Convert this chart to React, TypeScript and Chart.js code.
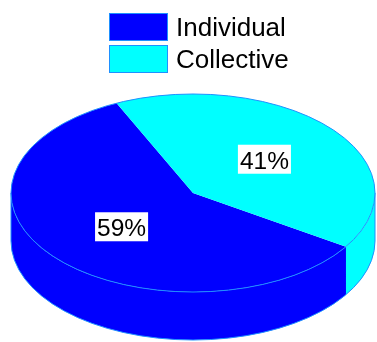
import React, { useEffect, useRef } from "react";
import { Chart, registerables } from "chart.js";

Chart.register(...registerables);

// Data
const categories = ["Individual", "Collective"];
const shares = [59, 41];

// Styling
const sliceColors = ["#0000FF", "#00FFFF"];
const edgeColor = "#1E90FF";
const rotationDeg = 122.8;
const TILT = 99 / 182; // vertical/horizontal radius of the top face
const DEPTH = 48; // thickness of the disc in px
const LABEL_RADIUS = 0.52;
const FONT = "Liberation Sans, Arial, sans-serif";

// Helper: visible front portion of the wall is canvas angle range [0, PI]
function frontSegments(a1: number, a2: number): Array<[number, number]> {
  const out: Array<[number, number]> = [];
  for (let k = -2; k <= 3; k++) {
    const base = k * 2 * Math.PI;
    const lo = Math.max(a1, base);
    const hi = Math.min(a2, base + Math.PI);
    if (hi > lo) out.push([lo, hi]);
  }
  return out;
}

const pie3d = {
  id: "pie3d",
  beforeDatasetsDraw(chart: any) {
    const ctx: CanvasRenderingContext2D = chart.ctx;
    const arcs = chart.getDatasetMeta(0).data as any[];
    if (!arcs.length) return;
    const { x: cx, y: cy, outerRadius: ry } = arcs[0];
    const rx = ry / TILT;

    // side walls of the disc
    ctx.save();
    arcs.forEach((arc, i) => {
      frontSegments(arc.startAngle, arc.endAngle).forEach(([lo, hi]) => {
        ctx.beginPath();
        ctx.ellipse(cx, cy, rx, ry, 0, lo, hi);
        ctx.ellipse(cx, cy + DEPTH, rx, ry, 0, hi, lo, true);
        ctx.closePath();
        ctx.fillStyle = sliceColors[i];
        ctx.fill();
      });
    });
    // wall outline
    ctx.strokeStyle = edgeColor;
    ctx.lineWidth = 1;
    ctx.beginPath();
    ctx.moveTo(cx + rx, cy);
    ctx.lineTo(cx + rx, cy + DEPTH);
    ctx.ellipse(cx, cy + DEPTH, rx, ry, 0, 0, Math.PI);
    ctx.lineTo(cx - rx, cy);
    ctx.stroke();
    ctx.restore();

    // stretch the library's circular arcs into the elliptical top face
    ctx.save();
    ctx.translate(cx, cy);
    ctx.scale(1 / TILT, 1);
    ctx.translate(-cx, -cy);
  },
  afterDatasetsDraw(chart: any) {
    const ctx: CanvasRenderingContext2D = chart.ctx;
    ctx.restore();
    const arcs = chart.getDatasetMeta(0).data as any[];
    if (!arcs.length) return;
    const { x: cx, y: cy, outerRadius: ry } = arcs[0];
    const rx = ry / TILT;

    ctx.save();
    ctx.strokeStyle = edgeColor;
    ctx.lineWidth = 1;
    ctx.beginPath();
    ctx.ellipse(cx, cy, rx, ry, 0, 0, Math.PI * 2);
    ctx.stroke();

    // percentage labels on a white box
    const values = chart.data.datasets[0].data as number[];
    const total = values.reduce((s, v) => s + v, 0);
    ctx.font = `24.5px ${FONT}`;
    ctx.textAlign = "center";
    ctx.textBaseline = "alphabetic";
    arcs.forEach((arc, i) => {
      const mid = (arc.startAngle + arc.endAngle) / 2;
      const lx = cx + LABEL_RADIUS * rx * Math.cos(mid);
      const ly = cy + LABEL_RADIUS * ry * Math.sin(mid);
      const text = Math.round((values[i] / total) * 100) + "%";
      const w = ctx.measureText(text).width + 4;
      const h = 29;
      ctx.fillStyle = "#FFFFFF";
      ctx.fillRect(lx - w / 2, ly - h / 2, w, h);
      ctx.fillStyle = "#000000";
      ctx.fillText(text, lx, ly + 9.5);
    });
    ctx.restore();
  },
  afterDraw(chart: any) {
    // stacked legend
    const ctx: CanvasRenderingContext2D = chart.ctx;
    const labels = chart.data.labels as string[];
    const colors = chart.data.datasets[0].backgroundColor as string[];
    ctx.save();
    ctx.font = `26px ${FONT}`;
    ctx.textAlign = "left";
    ctx.textBaseline = "alphabetic";
    labels.forEach((label, i) => {
      const bx = 109;
      const by = 13 + i * 32;
      ctx.fillStyle = colors[i];
      ctx.fillRect(bx, by, 59, 28);
      ctx.strokeStyle = edgeColor;
      ctx.lineWidth = 1;
      ctx.strokeRect(bx + 0.5, by + 0.5, 58, 27);
      ctx.fillStyle = "#000000";
      ctx.fillText(label, 176, by + 22.5);
    });
    ctx.restore();
  },
};

export default function App() {
  const canvasRef = useRef<HTMLCanvasElement | null>(null);

  useEffect(() => {
    if (!canvasRef.current) return;
    const chart = new Chart(canvasRef.current, {
      type: "pie",
      data: {
        labels: categories,
        datasets: [
          {
            data: shares,
            backgroundColor: sliceColors,
            borderWidth: 0,
            clip: false,
          } as any,
        ],
      },
      options: {
        animation: false,
        responsive: false,
        devicePixelRatio: 1,
        rotation: rotationDeg,
        layout: { padding: { left: 11, right: 2, top: 94, bottom: 50 } },
        events: [],
        plugins: {
          legend: { display: false },
          tooltip: { enabled: false },
        },
      },
      plugins: [pie3d],
    });
    return () => chart.destroy();
  }, []);

  return (
    <div style={{ position: "fixed", left: 0, top: 0, width: 377, height: 342, background: "#FFFFFF" }}>
      <canvas ref={canvasRef} width={377} height={342} />
    </div>
  );
}
